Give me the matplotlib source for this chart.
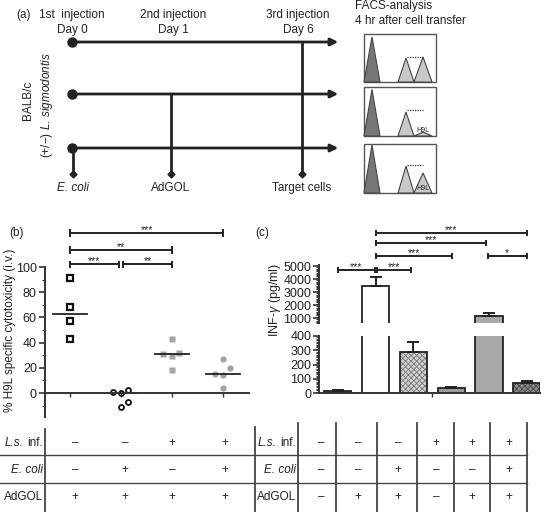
import numpy as np
import matplotlib
matplotlib.use('Agg')
import matplotlib.pyplot as plt
from matplotlib.ticker import MultipleLocator

plt.rcParams['font.family'] = ['Liberation Sans', 'DejaVu Sans']
plt.rcParams['mathtext.fontset'] = 'custom'
plt.rcParams['mathtext.rm'] = 'Liberation Sans'
plt.rcParams['mathtext.it'] = 'Liberation Sans:italic'
plt.rcParams['hatch.linewidth'] = 0.6

ink = '#222222'
W, H = 546, 512

# ---- data ----
# (b) % H9L specific cytotoxicity, one list per group
cyto_groups = [
    [91, 68, 57, 43],
    [1, -0.3, 2.4, -6.9, -11.4],
    [43, 31, 32, 29, 18],
    [27, 20, 15, 14, 4],
]
# (c) INF-gamma (pg/ml), means and upper error
ifn_mean = [14, 3500, 286, 33, 1150, 70]
ifn_err = [8, 650, 75, 8, 220, 17]

# FACS schematic peak heights (fraction of box height)
facs_dark = [0.94, 0.95, 0.98]
facs_peak1 = [0.50, 0.49, 0.55]
facs_h9l = [0.52, 0.08, 0.41]

# tables
tab_b = [['–', '–', '+', '+'],
         ['–', '+', '–', '+'],
         ['+', '+', '+', '+']]
tab_c = [['–', '–', '–', '+', '+', '+'],
         ['–', '–', '+', '–', '–', '+'],
         ['–', '+', '+', '–', '+', '+']]

# significance
sig_b = [(1, 4, 127, '***'), (1, 3, 113.5, '**'), (1, 1.96, 102, '***'), (2.04, 3, 102, '**')]
sig_c = [(2, 6, 7540, '***'), (2, 4.92, 6770, '***'), (2, 4.03, 5770, '***'),
         (4.97, 6, 5770, '*'), (1, 1.97, 4690, '***'), (2.03, 2.94, 4690, '***')]

fig = plt.figure(figsize=(W / 100, H / 100), dpi=100)


def px_axes(x0, y0, x1, y1):
    return fig.add_axes([x0 / W, 1 - y1 / H, (x1 - x0) / W, (y1 - y0) / H])


# overlay in pixel coordinates for the schematic and tables
ax0 = fig.add_axes([0, 0, 1, 1])
ax0.set_xlim(0, W)
ax0.set_ylim(H, 0)
ax0.axis('off')

# ---- (a) timeline ----
ax0.text(16, 15, '(a)', fontsize=8.5, va='center', color=ink)
for xc, t1, t2 in [(72, '1st  injection', 'Day 0'), (173, '2nd injection', 'Day 1'),
                   (298, '3rd injection', 'Day 6')]:
    ax0.text(xc, 15, t1, fontsize=8.5, ha='center', va='center', color=ink)
    ax0.text(xc, 30, t2, fontsize=8.5, ha='center', va='center', color=ink)
for yy in [42, 94, 148]:
    ax0.annotate('', xy=(341, yy), xytext=(72, yy),
                 arrowprops=dict(arrowstyle='-|>', lw=2, color=ink, mutation_scale=11))
    ax0.plot(72, yy, 'o', color=ink, ms=6.5)
for xv, ytop, lab, st in [(73, 148, 'E. coli', 'italic'), (171, 94, 'AdGOL', 'normal'),
                          (302, 42, 'Target cells', 'normal')]:
    ax0.plot([xv, xv], [ytop, 173], color=ink, lw=2)
    ax0.plot(xv, 174, 'D', color=ink, ms=3.5)
    ax0.text(xv, 188, lab, fontsize=8.5, ha='center', va='center', style=st, color=ink)
ax0.text(28, 100, 'BALB/c', rotation=90, fontsize=8.5, ha='center', va='center', color=ink)
ax0.text(47, 105, '(+/−) $\\mathit{L.\\,sigmodontis}$', rotation=90, fontsize=8.5,
         ha='center', va='center', color=ink)

# FACS
ax0.text(355, 6, 'FACS-analysis', fontsize=8.5, va='center', color=ink)
ax0.text(355, 21, '4 hr after cell transfer', fontsize=8.5, va='center', color=ink)
boxes = [(34, 82), (87, 136), (144, 193)]
for i, (yt, yb) in enumerate(boxes):
    hb = yb - yt
    ax0.add_patch(plt.Rectangle((364, yt), 72, hb, fill=False, ec='#555555', lw=1))
    peaks = [(372, 8, facs_dark[i], '#777777'), (406, 8, facs_peak1[i], '#c9c9c9'),
             (423, 9, facs_h9l[i], '#c9c9c9')]
    for xc, hw, hf, col in peaks:
        ax0.fill([xc - hw, xc, xc + hw], [yb, yb - hf * hb, yb], fc=col, ec='#444444', lw=0.8)
    ydot = yb - facs_peak1[i] * hb - 1.5
    ax0.plot([407, 423], [ydot, ydot], ls=(0, (1, 1)), color='#333333', lw=0.9)
    if i > 0:
        ax0.text(423, yb - 6 if i == 1 else yb - 4, 'H9L', fontsize=5, ha='center',
                 va='center', color=ink)

# ---- tables ----
row_y = [443, 470, 497]
for yy in [455, 483]:
    ax0.plot([0, 527], [yy, yy], color='#444444', lw=1)
ax0.plot([45, 45], [429, 512], color='#444444', lw=1.3)
for xv in [255, 298, 336, 377, 417, 454, 490, 527]:
    ax0.plot([xv, xv], [423 if xv > 255 else 427, 512], color='#444444', lw=1.3)
cols_b = [75, 125, 172, 225]
cols_c = [321, 358, 398, 436, 472, 509]


def row_label(xr, yy, r):
    if r == 0:
        ax0.text(xr, yy, 'inf.', fontsize=8.5, ha='right', va='center', color=ink)
        ax0.text(xr - 19.5, yy, 'L.s.', fontsize=8.5, ha='right', va='center', color=ink,
                 style='italic')
    elif r == 1:
        ax0.text(xr, yy, 'E. coli', fontsize=8.5, ha='right', va='center', color=ink,
                 style='italic')
    else:
        ax0.text(xr, yy, 'AdGOL', fontsize=8.5, ha='right', va='center', color=ink)


for r, yy in enumerate(row_y):
    row_label(43, yy, r)
    row_label(296, yy, r)
    for c, xv in enumerate(cols_b):
        ax0.text(xv, yy, tab_b[r][c], fontsize=8.5, ha='center', va='center', color=ink)
    for c, xv in enumerate(cols_c):
        ax0.text(xv, yy, tab_c[r][c], fontsize=8.5, ha='center', va='center', color=ink)


def bracket(ax, x0, x1, y, cap, label):
    kw = dict(color=ink, lw=1.4, clip_on=False, solid_capstyle='butt')
    ax.plot([x0, x1], [y, y], **kw)
    ax.plot([x0, x0], [y - cap, y + cap], **kw)
    ax.plot([x1, x1], [y - cap, y + cap], **kw)
    ax.annotate(label, xy=((x0 + x1) / 2, y), xytext=(0, -1.5), textcoords='offset points',
                ha='center', va='bottom', fontsize=7.5, color=ink, annotation_clip=False)


def style_axis(ax):
    for s in ['top', 'right']:
        ax.spines[s].set_visible(False)
    for s in ['left', 'bottom']:
        ax.spines[s].set_color('#333333')
        ax.spines[s].set_linewidth(1.4)
    ax.patch.set_visible(False)
    ax.tick_params(axis='y', which='major', labelsize=9, length=4, width=1.2,
                   color='#333333', labelcolor=ink, pad=1.5)
    ax.tick_params(axis='y', which='minor', length=2, width=0.8, color='#333333')


# ---- (b) scatter ----
axb = px_axes(44.5, 267, 248.5, 417)
style_axis(axb)
axb.set_xlim(0.5, 4.5)
axb.set_ylim(-19, 100)
axb.spines['bottom'].set_position(('data', 0))
axb.set_yticks([0, 20, 40, 60, 80, 100])
axb.yaxis.set_minor_locator(MultipleLocator(10))
axb.set_xticks([1, 2, 3, 4])
axb.set_xticklabels([])
axb.tick_params(axis='x', direction='out', length=3, width=1, color='#333333')
offsets = [[0, 0, 0, 0], [-0.16, 0, 0.14, 0.14, 0], [0, -0.18, 0.14, 0, 0], [0, 0.14, -0.16, 0, 0]]
styles = [dict(marker='s', mfc='none', mec='#111111', ms=4, mew=1.6),
          dict(marker='o', mfc='none', mec='#111111', ms=3.6, mew=1.3),
          dict(marker='s', mfc='#a3a3a3', mec='none', ms=4.5),
          dict(marker='o', mfc='#a3a3a3', mec='none', ms=4.5)]
for g, vals in enumerate(cyto_groups):
    xs = np.array(offsets[g]) + g + 1
    axb.plot(xs, vals, ls='none', clip_on=False, **styles[g])
    med = np.median(vals)
    axb.plot([g + 1 - 0.33, g + 1 + 0.33], [med, med], color=ink, lw=1.3)
ax0.text(10, 330, '% H9L specific cytotoxicity (i.v.)', rotation=90, fontsize=8.5,
         ha='center', va='center', color=ink)
axb.text(-0.05, 127, '(b)', fontsize=8.5, ha='center', va='center', color=ink,
         transform=axb.transData, clip_on=False)
for x0, x1, y, lab in sig_b:
    bracket(axb, x0, x1, y, 3, lab)

# ---- (c) broken bar chart ----
ax_hi = px_axes(319, 265.4, 540, 323.2)
ax_lo = px_axes(319, 336, 540, 393)
pos = np.arange(1, 7)
fills = ['#8e8e8e', 'white', '#d0d0d0', '#9c9c9c', '#a8a8a8', '#8a8a8a']
hatches = [None, None, 'xxxxxx', None, None, 'xxxxxx']
hcols = [None, None, '#7a7a7a', None, None, '#4a4a4a']
for ax in [ax_hi, ax_lo]:
    style_axis(ax)
    ax.set_xlim(0.5, 6.35)
    for i in range(6):
        if hatches[i]:
            ax.bar(pos[i], ifn_mean[i], 0.72, color=fills[i], edgecolor=hcols[i],
                   hatch=hatches[i], lw=0)
            ax.bar(pos[i], ifn_mean[i], 0.72, fill=False, edgecolor='#222222', lw=1.3)
        else:
            ax.bar(pos[i], ifn_mean[i], 0.72, color=fills[i], edgecolor='#222222', lw=1.3)
    ax.errorbar(pos, ifn_mean, yerr=[np.zeros(6), ifn_err], fmt='none', ecolor='#222222',
                elinewidth=1.4, capsize=4, capthick=1.4)
ax_hi.set_ylim(600, 5050)
ax_hi.spines['bottom'].set_visible(False)
ax_hi.set_xticks([])
ax_hi.set_yticks([1000, 2000, 3000, 4000, 5000])
ax_hi.yaxis.set_minor_locator(MultipleLocator(100))
ax_lo.set_ylim(0, 400)
ax_lo.set_yticks([0, 100, 200, 300, 400])
ax_lo.yaxis.set_minor_locator(MultipleLocator(10))
ax_lo.set_xticks([3.5])
ax_lo.set_xticklabels([])
ax_lo.tick_params(axis='x', direction='out', length=3, width=1, color='#333333')
ax0.text(275, 300, 'INF-$\\gamma$ (pg/ml)', rotation=90, fontsize=9, ha='center',
         va='center', color=ink)
ax0.text(262, 233, '(c)', fontsize=8.5, ha='center', va='center', color=ink)
for x0, x1, y, lab in sig_c:
    bracket(ax_hi, x0, x1, y, 230, lab)

fig.savefig('out.png', dpi=100)
